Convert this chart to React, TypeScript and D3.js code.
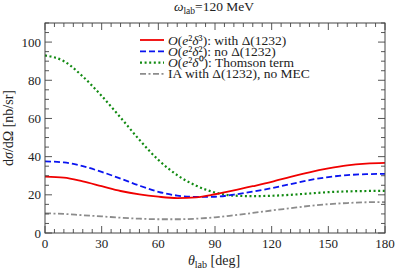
import React from 'react';
import * as d3 from 'd3';

// angles in degrees (lab frame)
const angles = [0, 10, 20, 30, 40, 50, 60, 70, 80, 90, 100, 110, 120, 130, 140, 150, 160, 170, 180];

// cross sections in nb/sr
const withDelta = [29.5, 29, 27, 24.5, 22, 20.2, 19, 18.3, 18.7, 20.3, 22.3, 24.5, 26.8, 29.4, 31.8, 33.8, 35.4, 36.3, 36.7];
const noDelta = [37.5, 37, 35, 32, 28.5, 24.8, 21.6, 19.6, 18.9, 19, 20.1, 21.7, 23.5, 25.6, 27.7, 29.3, 30.3, 30.8, 31];
const thomson = [93, 90, 82, 71.8, 60.5, 48.8, 38.3, 30.3, 24.8, 21.2, 19.6, 19.3, 19.5, 20, 20.7, 21.4, 21.8, 22, 22.1];
const iaNoMec = [10.3, 10, 9.3, 8.7, 8, 7.5, 7.2, 7.2, 7.5, 8.2, 9.3, 10.5, 11.8, 13, 14.2, 15.1, 15.7, 16.1, 16.2];

const xTicks = [0, 30, 60, 90, 120, 150, 180];
const yTicks = [0, 20, 40, 60, 80, 100];

const series = [
  { key: 'delta', values: withDelta, color: '#f00000', dash: undefined, width: 1.8, order: '³', label: ': with Δ(1232)' },
  { key: 'nodelta', values: noDelta, color: '#0a14f0', dash: '6,3', width: 1.8, order: '²', label: ': no Δ(1232)' },
  { key: 'thomson', values: thomson, color: '#118a11', dash: '2,2.6', width: 2.2, order: '⁰', label: ': Thomson term' },
  { key: 'ia', values: iaNoMec, color: '#8c8c8c', dash: '6,2.5,2,2.5', width: 1.8, order: null, label: 'IA with Δ(1232), no MEC' },
];

const width = 397;
const height = 274;
const margin = { top: 23, right: 12, bottom: 41, left: 45 };
const font = 'Liberation Serif';
const ink = '#222';
const axisColor = '#444';

const x = d3.scaleLinear().domain([0, 180]).range([margin.left, width - margin.right]);
const y = d3.scaleLinear().domain([0, 110]).range([height - margin.bottom, margin.top]);

const line = d3.line<number>()
  .x((_, i) => x(angles[i]))
  .y(d => y(d))
  .curve(d3.curveMonotoneX);

const App = () => {
  const x0 = margin.left;
  const x1 = width - margin.right;
  const y0 = y(0);
  const y1 = margin.top;

  const xMinor = d3.range(0, 181, 5);
  const yMinor = d3.range(0, 111, 5);

  return (
    <svg
      width={width}
      height={height}
      style={{ position: 'absolute', left: 0, top: 0, background: '#fff' }}
    >
      {/* curves, gray first and red on top */}
      {[...series].reverse().map(s => (
        <path
          key={s.key}
          d={line(s.values) || ''}
          fill="none"
          stroke={s.color}
          strokeWidth={s.width}
          strokeDasharray={s.dash}
        />
      ))}

      {/* frame */}
      <rect x={x0} y={y1} width={x1 - x0} height={y0 - y1} fill="none" stroke={axisColor} strokeWidth={1} />

      {/* ticks on all sides, inward */}
      <g stroke={axisColor} strokeWidth={0.9}>
        {xMinor.map(v => {
          const len = v % 30 === 0 ? 7 : 4;
          return (
            <g key={'x' + v}>
              <line x1={x(v)} x2={x(v)} y1={y0} y2={y0 - len} />
              <line x1={x(v)} x2={x(v)} y1={y1} y2={y1 + len} />
            </g>
          );
        })}
        {yMinor.map(v => {
          const len = v % 20 === 0 ? 7 : 4;
          return (
            <g key={'y' + v}>
              <line x1={x0} x2={x0 + len} y1={y(v)} y2={y(v)} />
              <line x1={x1} x2={x1 - len} y1={y(v)} y2={y(v)} />
            </g>
          );
        })}
      </g>

      {/* tick labels */}
      {xTicks.map(v => (
        <text key={'xl' + v} x={x(v)} y={y0 + 14.5} textAnchor="middle" fontFamily={font} fontSize={13} fill={ink}>{v}</text>
      ))}
      {yTicks.map(v => (
        <text key={'yl' + v} x={x0 - 4} y={y(v) + 4.5} textAnchor="end" fontFamily={font} fontSize={13} fill={ink}>{v}</text>
      ))}

      {/* title */}
      <text x={214} y={10.5} textAnchor="middle" fontFamily={font} fontSize={13.5} fill={ink}>
        <tspan fontStyle="italic">ω</tspan>
        <tspan dy={3} fontSize={9.5}>lab</tspan>
        <tspan dy={-3}>=120 MeV</tspan>
      </text>

      {/* x axis title */}
      <text x={214} y={265} textAnchor="middle" fontFamily={font} fontSize={14} fill={ink}>
        <tspan fontStyle="italic">θ</tspan>
        <tspan dy={3} fontSize={10}>lab</tspan>
        <tspan dy={-3}> [deg]</tspan>
      </text>

      {/* y axis title */}
      <text transform={`translate(13, ${(y0 + y1) / 2}) rotate(-90)`} textAnchor="middle" fontFamily={font} fontSize={14} fill={ink}>
        d<tspan fontStyle="italic">σ</tspan>/dΩ [nb/sr]
      </text>

      {/* legend */}
      <g transform="translate(140, 40)">
        {series.map((s, i) => (
          <g key={'lg' + s.key} transform={`translate(0, ${i * 11.3})`}>
            <line x1={0} x2={24} y1={0} y2={0} stroke={s.color} strokeWidth={s.width} strokeDasharray={s.dash} />
            {s.order !== null ? (
              <text x={28} y={4.5} fontFamily={font} fontSize={13.5} fill={ink}>
                <tspan fontStyle="italic">O</tspan>(<tspan fontStyle="italic">e</tspan>²<tspan fontStyle="italic">δ</tspan>{s.order + ')' + s.label}
              </text>
            ) : (
              <text x={28} y={4.5} fontFamily={font} fontSize={13.5} fill={ink}>{s.label}</text>
            )}
          </g>
        ))}
      </g>
    </svg>
  );
};

export default App;
